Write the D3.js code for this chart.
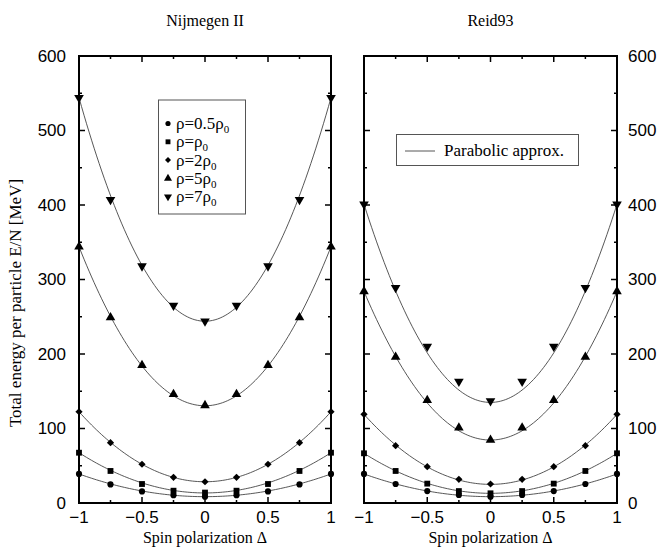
<!DOCTYPE html>
<html>
<head>
<meta charset="utf-8">
<script src="https://cdn.jsdelivr.net/npm/d3@7"></script>
<style>
  body { margin: 0; background: #fff; }
</style>
</head>
<body>
<script>
// spin polarization values where the points sit
var deltas = [-1, -0.75, -0.5, -0.25, 0, 0.25, 0.5, 0.75, 1];
var densities = ["0.5", "", "2", "5", "7"];
var symbols = [d3.symbolCircle, d3.symbolSquare, d3.symbolSquare, d3.symbolTriangle, d3.symbolTriangle];
var rotations = [0, 0, 45, 0, 180];

// Nijmegen II, E/N in MeV
var nijm05 = [39, 25, 15.5, 10.5, 8.5, 10.5, 15.5, 25, 39];
var nijm1 = [67.5, 43, 25.5, 16.5, 14, 16.5, 25.5, 43, 67.5];
var nijm2 = [122.5, 81, 52, 34.5, 28.5, 34.5, 52, 81, 122.5];
var nijm5 = [344, 249, 185, 146, 131, 146, 185, 249, 344];
var nijm7 = [544, 407, 318, 265, 244, 265, 318, 407, 544];
// parabolic approx: E(0) and E(1) for each density
var nijmE0 = [8.5, 13.5, 28.5, 130.5, 244];
var nijmE1 = [39, 67.5, 122.5, 344, 544];

// Reid93
var reid05 = [39, 25.5, 16, 10.7, 8.5, 10.7, 16, 25.5, 39];
var reid1 = [66.7, 43, 26, 16, 13, 16, 26, 43, 66.7];
var reid2 = [119, 77, 48.7, 31.8, 25.5, 31.8, 48.7, 77, 119];
var reid5 = [284, 196, 138, 101, 84.6, 101, 138, 196, 284];
var reid7 = [401, 289, 210, 163, 137, 163, 210, 289, 401];
var reidE0 = [8.5, 13, 25, 84.5, 135];
var reidE1 = [39, 66.7, 119, 284, 401];

var xTicks = [-1, -0.5, 0, 0.5, 1];
var yTicks = [0, 100, 200, 300, 400, 500, 600];

var serif = "'Liberation Serif', 'Times New Roman', 'DejaVu Serif', serif";
var sans = "'Liberation Sans', Arial, Helvetica, sans-serif";

var screen = {width: 672, height: 548};
var plotTop = 56, plotBottom = 503;

var svg = d3.select("body")
            .append("svg")
            .attr("width", screen.width)
            .attr("height", screen.height);

var y = d3.scaleLinear()
          .domain([0, 600])
          .range([plotBottom, plotTop]);

var panels = [
  {title: "Nijmegen II", left: 79, right: 331, series: [nijm05, nijm1, nijm2, nijm5, nijm7], e0: nijmE0, e1: nijmE1, labels: "left"},
  {title: "Reid93", left: 364, right: 617, series: [reid05, reid1, reid2, reid5, reid7], e0: reidE0, e1: reidE1, labels: "right"}
];

var markerSizes = [30, 34, 26, 40, 40];

panels.forEach(function(p)
{
  var x = d3.scaleLinear()
            .domain([-1, 1])
            .range([p.left, p.right]);

  var g = svg.append("g");

  // parabolic curves
  var line = d3.line()
               .x(function(d) {return x(d[0]);})
               .y(function(d) {return y(d[1]);});

  p.e0.forEach(function(e0, i)
  {
    var e1 = p.e1[i];
    var pts = d3.range(-1, 1.0001, 0.02).map(function(t) {return [t, e0 + (e1 - e0) * t * t];});
    g.append("path")
     .attr("d", line(pts))
     .attr("fill", "none")
     .attr("stroke", "#444")
     .attr("stroke-width", 0.9);
  })

  // markers
  p.series.forEach(function(values, i)
  {
    var sym = d3.symbol().type(symbols[i]).size(markerSizes[i]);
    g.selectAll(null)
     .data(values)
     .enter()
     .append("path")
     .attr("d", sym)
     .attr("transform", function(d, j) {
       return "translate(" + x(deltas[j]) + "," + y(d) + ") rotate(" + rotations[i] + ")";
     })
     .attr("fill", "black");
  })

  // ticks inward on all four sides
  var ticksX = d3.range(-0.75, 0.76, 0.25);
  var ticksY = d3.range(50, 551, 50);

  ticksX.forEach(function(t)
  {
    var len = Math.abs(t * 4) % 2 == 0 ? 6 : 3;
    g.append("line").attr("x1", x(t)).attr("x2", x(t)).attr("y1", plotBottom).attr("y2", plotBottom - len)
     .attr("stroke", "black").attr("stroke-width", 1.5);
    g.append("line").attr("x1", x(t)).attr("x2", x(t)).attr("y1", plotTop).attr("y2", plotTop + len)
     .attr("stroke", "black").attr("stroke-width", 1.5);
  })

  ticksY.forEach(function(t)
  {
    var len = t % 100 == 0 ? 6 : 3;
    g.append("line").attr("x1", p.left).attr("x2", p.left + len).attr("y1", y(t)).attr("y2", y(t))
     .attr("stroke", "black").attr("stroke-width", 1.5);
    g.append("line").attr("x1", p.right).attr("x2", p.right - len).attr("y1", y(t)).attr("y2", y(t))
     .attr("stroke", "black").attr("stroke-width", 1.5);
  })

  g.append("rect")
   .attr("x", p.left)
   .attr("y", plotTop)
   .attr("width", p.right - p.left)
   .attr("height", plotBottom - plotTop)
   .attr("fill", "none")
   .attr("stroke", "black")
   .attr("stroke-width", 2);

  // tick labels
  g.selectAll(null)
   .data(xTicks)
   .enter()
   .append("text")
   .attr("font-family", sans)
   .attr("x", function(d) {return x(d);})
   .attr("y", plotBottom + 20)
   .attr("text-anchor", "middle")
   .attr("font-size", "17px")
   .text(function(d) {return String(d).replace("-", "\u2212");});

  g.selectAll(null)
   .data(yTicks)
   .enter()
   .append("text")
   .attr("font-family", sans)
   .attr("x", p.labels == "left" ? p.left - 13 : p.right + 11)
   .attr("y", function(d) {return y(d);})
   .attr("dy", "0.35em")
   .attr("text-anchor", p.labels == "left" ? "end" : "start")
   .attr("font-size", "17px")
   .text(function(d) {return d;});

  g.append("text")
   .attr("font-family", serif)
   .attr("x", (p.left + p.right) / 2)
   .attr("y", 26)
   .attr("text-anchor", "middle")
   .attr("font-size", "16px")
   .text(p.title);

  g.append("text")
   .attr("font-family", serif)
   .attr("x", (p.left + p.right) / 2)
   .attr("y", 543)
   .attr("text-anchor", "middle")
   .attr("font-size", "16px")
   .text("Spin polarization \u0394");
})

svg.append("text")
   .attr("font-family", serif)
   .attr("transform", "translate(21,303) rotate(-90)")
   .attr("text-anchor", "middle")
   .attr("font-size", "17px")
   .text("Total energy per particle E/N [MeV]");

// density legend (left panel)
var leg = svg.append("g");
leg.append("rect")
   .attr("x", 158.5)
   .attr("y", 100)
   .attr("width", 87)
   .attr("height", 114)
   .attr("fill", "white")
   .attr("stroke", "#555")
   .attr("stroke-width", 1);

densities.forEach(function(d, i)
{
  var yy = 123.5 + i * 18.3;
  leg.append("path")
     .attr("d", d3.symbol().type(symbols[i]).size(markerSizes[i] * 0.7))
     .attr("transform", "translate(168," + yy + ") rotate(" + rotations[i] + ")")
     .attr("fill", "black");
  var t = leg.append("text")
     .attr("font-family", serif)
     .attr("x", 176)
     .attr("y", yy + 5.5)
     .attr("font-size", "17px");
  t.append("tspan").text("\u03c1=" + d + "\u03c1");
  t.append("tspan").attr("dy", 4).attr("font-size", "11px").text("0");
})

// parabolic legend (right panel)
var leg2 = svg.append("g");
leg2.append("rect")
    .attr("x", 396.5)
    .attr("y", 134.5)
    .attr("width", 182)
    .attr("height", 31)
    .attr("fill", "white")
    .attr("stroke", "#555")
    .attr("stroke-width", 1);
leg2.append("line")
    .attr("x1", 405).attr("x2", 435).attr("y1", 151).attr("y2", 151)
    .attr("stroke", "#444").attr("stroke-width", 0.9);
leg2.append("text")
    .attr("font-family", serif)
    .attr("x", 444)
    .attr("y", 156)
    .attr("font-size", "17px")
    .text("Parabolic approx.");
</script>
</body>
</html>
